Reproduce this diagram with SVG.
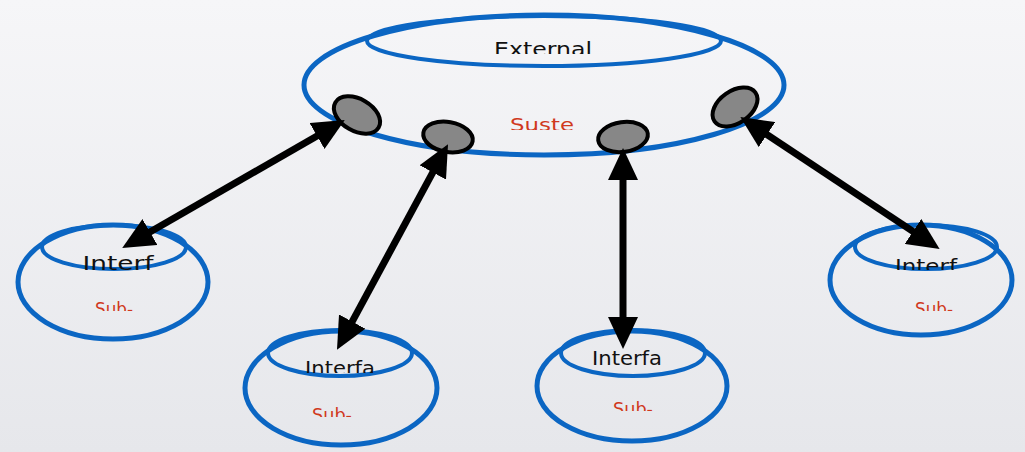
<svg xmlns="http://www.w3.org/2000/svg" width="1025" height="452" viewBox="0 0 1025 452">
<defs>
<linearGradient id="bg" x1="0" y1="0" x2="0" y2="1">
<stop offset="0" stop-color="#f6f6f8"/>
<stop offset="1" stop-color="#e6e7eb"/>
</linearGradient>
<marker id="ah" viewBox="0 0 32 30" markerWidth="32" markerHeight="30" refX="4" refY="15" orient="auto-start-reverse" markerUnits="userSpaceOnUse">
<path d="M0,0 L32,15 L0,30 z" fill="#000"/>
</marker>
<clipPath id="c-ext"><rect x="400" y="20" width="300" height="34"/></clipPath>
<clipPath id="c-sys"><rect x="450" y="100" width="200" height="30"/></clipPath>
<clipPath id="c-i1"><rect x="40" y="240" width="150" height="30"/></clipPath>
<clipPath id="c-s1"><rect x="40" y="290" width="150" height="21"/></clipPath>
<clipPath id="c-i2"><rect x="270" y="345" width="150" height="28"/></clipPath>
<clipPath id="c-s2"><rect x="270" y="395" width="150" height="22"/></clipPath>
<clipPath id="c-i3"><rect x="560" y="335" width="150" height="35"/></clipPath>
<clipPath id="c-s3"><rect x="560" y="390" width="150" height="21"/></clipPath>
<clipPath id="c-i4"><rect x="850" y="245" width="150" height="25"/></clipPath>
<clipPath id="c-s4"><rect x="850" y="290" width="150" height="21"/></clipPath>
</defs>
<style>
.outer{fill:none;stroke:#0b66c3;stroke-width:5}
.inner{fill:none;stroke:#0b66c3;stroke-width:4}
.port{fill:#878787;stroke:#000;stroke-width:4}
.lbl{font-family:"DejaVu Sans","Liberation Sans",sans-serif;font-size:20px;fill:#111;text-anchor:middle}
.sub{font-family:"DejaVu Sans","Liberation Sans",sans-serif;font-size:18px;fill:#d0391d;text-anchor:middle}
.conn{stroke:#000;stroke-width:7;fill:none;marker-start:url(#ah);marker-end:url(#ah)}
</style>
<rect width="1025" height="452" fill="url(#bg)"/>

<g id="system">
<ellipse class="outer" cx="544" cy="85" rx="240" ry="70"/>
<ellipse class="inner" cx="544" cy="41" rx="177" ry="25"/>
<text class="lbl" x="543" y="56" textLength="98" lengthAdjust="spacingAndGlyphs" clip-path="url(#c-ext)">External</text>
<text class="sub" x="542" y="131" font-size="23" textLength="64" lengthAdjust="spacingAndGlyphs" clip-path="url(#c-sys)">Suste</text>
</g>

<g id="ports">
<ellipse id="port1" class="port" cx="357" cy="115" rx="25" ry="16" transform="rotate(30 357 115)"/>
<ellipse id="port2" class="port" cx="448" cy="137" rx="25" ry="15" transform="rotate(10 448 137)"/>
<ellipse id="port3" class="port" cx="623" cy="137" rx="25" ry="15" transform="rotate(-8 623 137)"/>
<ellipse id="port4" class="port" cx="735" cy="107" rx="25" ry="16" transform="rotate(-35 735 107)"/>
</g>

<g id="sub1">
<ellipse class="outer" cx="113" cy="282" rx="95" ry="57"/>
<ellipse class="inner" cx="114" cy="247" rx="72" ry="22"/>
<text class="lbl" x="118" y="270" font-size="22" textLength="71" lengthAdjust="spacingAndGlyphs" clip-path="url(#c-i1)">Interf</text>
<text class="sub" x="114" y="315" textLength="38" lengthAdjust="spacingAndGlyphs" clip-path="url(#c-s1)">Sub-</text>
</g>

<g id="sub2">
<ellipse class="outer" cx="341" cy="388" rx="96" ry="57"/>
<ellipse class="inner" cx="340" cy="353" rx="72" ry="23"/>
<text class="lbl" x="340" y="375" textLength="70" lengthAdjust="spacingAndGlyphs" clip-path="url(#c-i2)">Interfa</text>
<text class="sub" x="332" y="421" textLength="40" lengthAdjust="spacingAndGlyphs" clip-path="url(#c-s2)">Sub-</text>
</g>

<g id="sub3">
<ellipse class="outer" cx="632" cy="386" rx="95" ry="55"/>
<ellipse class="inner" cx="633" cy="353" rx="72" ry="23"/>
<text class="lbl" x="627" y="365" textLength="70" lengthAdjust="spacingAndGlyphs" clip-path="url(#c-i3)">Interfa</text>
<text class="sub" x="633" y="415" textLength="40" lengthAdjust="spacingAndGlyphs" clip-path="url(#c-s3)">Sub-</text>
</g>

<g id="sub4">
<ellipse class="outer" cx="921" cy="280" rx="91" ry="55"/>
<ellipse class="inner" cx="926" cy="247" rx="71" ry="22"/>
<text class="lbl" x="926" y="273" font-size="22" textLength="62" lengthAdjust="spacingAndGlyphs" clip-path="url(#c-i4)">Interf</text>
<text class="sub" x="934" y="315" textLength="38" lengthAdjust="spacingAndGlyphs" clip-path="url(#c-s4)">Sub-</text>
</g>

<g id="connectors">
<line class="conn" x1="320.5" y1="134" x2="146.5" y2="234"/>
<line class="conn" x1="434.7" y1="168.9" x2="350.3" y2="325.1"/>
<line class="conn" x1="623" y1="176" x2="623" y2="321"/>
<line class="conn" x1="763.7" y1="132.4" x2="916.3" y2="233.6"/>
</g>
</svg>
